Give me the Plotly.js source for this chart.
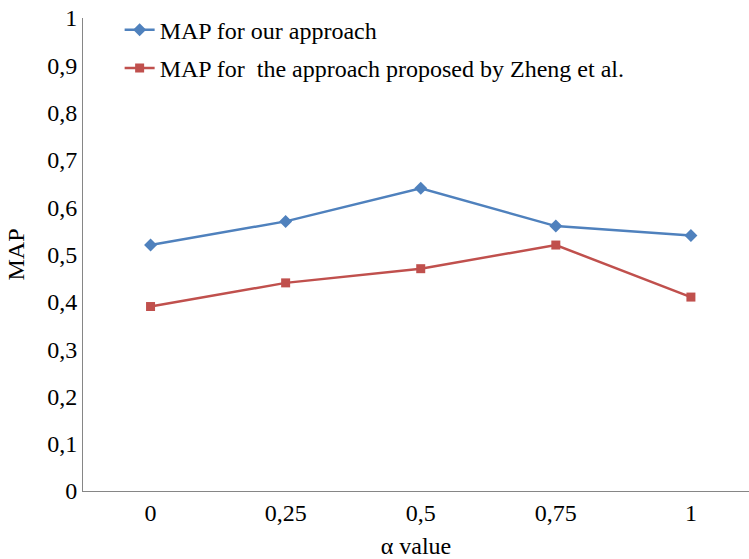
<!DOCTYPE html>
<html>
<head>
<meta charset="utf-8">
<script src="https://cdn.plot.ly/plotly-3.0.1.min.js"></script>
<style>html,body{margin:0;padding:0;background:#fff;overflow:hidden;}</style>
</head>
<body>
<div id="chart" style="width:749px;height:559px;"></div>
<script>
const alphaLabels = ["0", "0,25", "0,5", "0,75", "1"];
const mapOurs = [0.52, 0.57, 0.64, 0.56, 0.54];
const mapZheng = [0.39, 0.44, 0.47, 0.52, 0.41];
const yTickVals = [0, 0.1, 0.2, 0.3, 0.4, 0.5, 0.6, 0.7, 0.8, 0.9, 1];
const yTickText = ["0", "0,1", "0,2", "0,3", "0,4", "0,5", "0,6", "0,7", "0,8", "0,9", "1"];
const seriesNames = ["MAP for our approach", "MAP for  the approach proposed by Zheng et al."];

const xIdx = alphaLabels.map((_, i) => i);
const font = {family: "\"Liberation Serif\", serif", size: 24, color: "#000"};

const traces = [
  {x: xIdx, y: mapOurs, name: seriesNames[0], legendgroup: "a", type: "scatter", mode: "lines+markers",
   line: {color: "#4F81BD", width: 2.5}, marker: {symbol: "diamond", size: 10, color: "#4F81BD"}},
  {x: xIdx, y: mapZheng, name: seriesNames[1], legendgroup: "b", type: "scatter", mode: "lines+markers",
   line: {color: "#C0504D", width: 2.5}, marker: {symbol: "square", size: 9, color: "#C0504D"}}
];

const layout = {
  width: 749, height: 559,
  margin: {l: 83, r: 0, t: 18, b: 68},
  paper_bgcolor: "#fff", plot_bgcolor: "#fff",
  font: font,
  showlegend: true,
  legend: {x: 0.055, y: 1.022, xanchor: "left", yanchor: "top", bgcolor: "rgba(0,0,0,0)",
           font: font, tracegroupgap: 4, traceorder: "grouped"},
  xaxis: {
    range: [-0.5, 4.43], tickmode: "array", tickvals: xIdx, ticktext: alphaLabels,
    showgrid: false, zeroline: false, showline: true, linecolor: "#868686", linewidth: 1,
    ticks: "", ticklen: 0, fixedrange: true,
    title: {text: "α value", font: font, standoff: 16}
  },
  yaxis: {
    range: [0, 1], tickmode: "array", tickvals: yTickVals, ticktext: yTickText,
    showgrid: false, zeroline: false, showline: true, linecolor: "#868686", linewidth: 1,
    ticks: "outside", ticklen: 0, tickcolor: "#fff",
    title: {text: "MAP", font: font, standoff: 15}
  }
};

Plotly.newPlot("chart", traces, layout, {displayModeBar: false, staticPlot: true});
</script>
</body>
</html>
